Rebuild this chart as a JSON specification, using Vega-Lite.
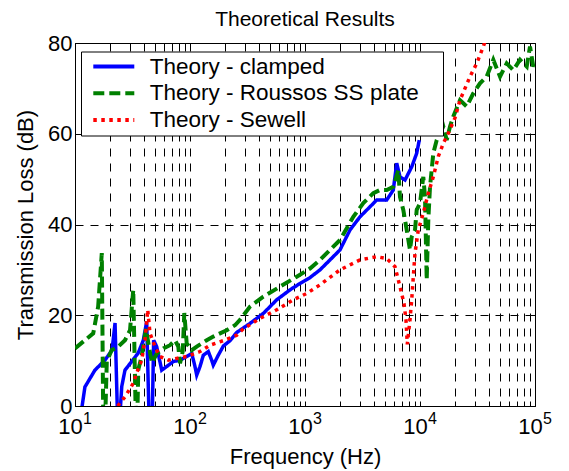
{
  "$schema": "https://vega.github.io/schema/vega-lite/v6.json",
  "width": 460,
  "height": 363,
  "autosize": {"type": "none"},
  "padding": {"left": 75, "top": 43, "right": 34, "bottom": 65},
  "background": "white",
  "title": {"text": "Theoretical Results", "fontSize": 21, "fontWeight": "normal", "font": "Liberation Sans", "color": "black", "offset": 2},
  "config": {
    "font": "Liberation Sans",
    "view": {"stroke": "black", "strokeWidth": 1},
    "legend": {
      "orient": "none", "legendX": 6, "legendY": 8.5,
      "symbolType": "M-4.1,0H4.1M63.34,0", "symbolSize": 100, "symbolStrokeWidth": 4,
      "padding": 3.75, "symbolOffset": 17.8, "labelOffset": 24.75,
      "labelFontSize": 22.5, "labelColor": "black", "labelFont": "Liberation Sans",
      "strokeColor": "black", "fillColor": "white", "rowPadding": 3.8, "labelLimit": 0
    }
  },
  "resolve": {"axis": {"x": "independent", "y": "independent"}},
  "layer": [
    {
      "data": {"values": [
        {"series": "Theory - clamped", "freq": 11.3, "tl": -1.5},
        {"series": "Theory - clamped", "freq": 12.2, "tl": 4.2},
        {"series": "Theory - clamped", "freq": 14.9, "tl": 7.9},
        {"series": "Theory - clamped", "freq": 18.2, "tl": 10.1},
        {"series": "Theory - clamped", "freq": 21.0, "tl": 12.3},
        {"series": "Theory - clamped", "freq": 22.3, "tl": 18.3},
        {"series": "Theory - clamped", "freq": 23.4, "tl": -2},
        {"series": "Theory - clamped", "freq": 24.6, "tl": -2},
        {"series": "Theory - clamped", "freq": 25.5, "tl": 4.3},
        {"series": "Theory - clamped", "freq": 27.2, "tl": 7.9},
        {"series": "Theory - clamped", "freq": 31.1, "tl": 9.8},
        {"series": "Theory - clamped", "freq": 35.5, "tl": 11.7},
        {"series": "Theory - clamped", "freq": 39.3, "tl": 14.5},
        {"series": "Theory - clamped", "freq": 42.0, "tl": 18.6},
        {"series": "Theory - clamped", "freq": 44.0, "tl": -2},
        {"series": "Theory - clamped", "freq": 47.0, "tl": -2},
        {"series": "Theory - clamped", "freq": 48.3, "tl": 14.5},
        {"series": "Theory - clamped", "freq": 51.3, "tl": 13.1},
        {"series": "Theory - clamped", "freq": 56.8, "tl": 7.9},
        {"series": "Theory - clamped", "freq": 62.7, "tl": 8.7},
        {"series": "Theory - clamped", "freq": 71.6, "tl": 9.8},
        {"series": "Theory - clamped", "freq": 81.9, "tl": 10.1},
        {"series": "Theory - clamped", "freq": 93.6, "tl": 10.9},
        {"series": "Theory - clamped", "freq": 103.5, "tl": 11.6},
        {"series": "Theory - clamped", "freq": 110.5, "tl": 8.7},
        {"series": "Theory - clamped", "freq": 114.4, "tl": 6.8},
        {"series": "Theory - clamped", "freq": 122.2, "tl": 8.7},
        {"series": "Theory - clamped", "freq": 130.6, "tl": 11.2},
        {"series": "Theory - clamped", "freq": 144.3, "tl": 12.0},
        {"series": "Theory - clamped", "freq": 154.4, "tl": 10.1},
        {"series": "Theory - clamped", "freq": 159.4, "tl": 9.0},
        {"series": "Theory - clamped", "freq": 176.2, "tl": 11.2},
        {"series": "Theory - clamped", "freq": 194.8, "tl": 13.2},
        {"series": "Theory - clamped", "freq": 222.7, "tl": 14.4},
        {"series": "Theory - clamped", "freq": 254.7, "tl": 16.2},
        {"series": "Theory - clamped", "freq": 332.4, "tl": 18.2},
        {"series": "Theory - clamped", "freq": 433.9, "tl": 20.4},
        {"series": "Theory - clamped", "freq": 567.5, "tl": 23.4},
        {"series": "Theory - clamped", "freq": 740.6, "tl": 25.6},
        {"series": "Theory - clamped", "freq": 904.6, "tl": 27.0},
        {"series": "Theory - clamped", "freq": 1105, "tl": 28.3},
        {"series": "Theory - clamped", "freq": 1350, "tl": 30.0},
        {"series": "Theory - clamped", "freq": 1650, "tl": 32.2},
        {"series": "Theory - clamped", "freq": 2015, "tl": 34.4},
        {"series": "Theory - clamped", "freq": 2462, "tl": 38.8},
        {"series": "Theory - clamped", "freq": 3008, "tl": 41.7},
        {"series": "Theory - clamped", "freq": 3674, "tl": 43.9},
        {"series": "Theory - clamped", "freq": 4203, "tl": 45.4},
        {"series": "Theory - clamped", "freq": 5133, "tl": 45.4},
        {"series": "Theory - clamped", "freq": 5857, "tl": 47.6},
        {"series": "Theory - clamped", "freq": 6272, "tl": 53.5},
        {"series": "Theory - clamped", "freq": 6699, "tl": 50.5},
        {"series": "Theory - clamped", "freq": 7405, "tl": 49.8},
        {"series": "Theory - clamped", "freq": 8470, "tl": 52.7},
        {"series": "Theory - clamped", "freq": 9361, "tl": 55.7},
        {"series": "Theory - clamped", "freq": 9860, "tl": 58.6},

        {"series": "Theory - Roussos SS plate", "freq": 10, "tl": 12.7},
        {"series": "Theory - Roussos SS plate", "freq": 12.2, "tl": 14.5},
        {"series": "Theory - Roussos SS plate", "freq": 14.4, "tl": 16},
        {"series": "Theory - Roussos SS plate", "freq": 15.9, "tl": 21.9},
        {"series": "Theory - Roussos SS plate", "freq": 17.1, "tl": 33.7},
        {"series": "Theory - Roussos SS plate", "freq": 17.6, "tl": -3},
        {"series": "Theory - Roussos SS plate", "freq": 18.3, "tl": -3},
        {"series": "Theory - Roussos SS plate", "freq": 18.9, "tl": 9.8},
        {"series": "Theory - Roussos SS plate", "freq": 20.8, "tl": 12.3},
        {"series": "Theory - Roussos SS plate", "freq": 23.8, "tl": 13.1},
        {"series": "Theory - Roussos SS plate", "freq": 27.2, "tl": 14.5},
        {"series": "Theory - Roussos SS plate", "freq": 30.1, "tl": 16.7},
        {"series": "Theory - Roussos SS plate", "freq": 32.1, "tl": 25.6},
        {"series": "Theory - Roussos SS plate", "freq": 33.8, "tl": -3},
        {"series": "Theory - Roussos SS plate", "freq": 34.8, "tl": -3},
        {"series": "Theory - Roussos SS plate", "freq": 35.5, "tl": 8},
        {"series": "Theory - Roussos SS plate", "freq": 38.0, "tl": 11},
        {"series": "Theory - Roussos SS plate", "freq": 41.4, "tl": 17},
        {"series": "Theory - Roussos SS plate", "freq": 44.0, "tl": 13},
        {"series": "Theory - Roussos SS plate", "freq": 46.7, "tl": 9.5},
        {"series": "Theory - Roussos SS plate", "freq": 51.3, "tl": 11.5},
        {"series": "Theory - Roussos SS plate", "freq": 58.6, "tl": 12.7},
        {"series": "Theory - Roussos SS plate", "freq": 67.0, "tl": 13.4},
        {"series": "Theory - Roussos SS plate", "freq": 74.1, "tl": 14.5},
        {"series": "Theory - Roussos SS plate", "freq": 79.1, "tl": 13.1},
        {"series": "Theory - Roussos SS plate", "freq": 81.9, "tl": 9.4},
        {"series": "Theory - Roussos SS plate", "freq": 86.4, "tl": 12},
        {"series": "Theory - Roussos SS plate", "freq": 89.2, "tl": 20.5},
        {"series": "Theory - Roussos SS plate", "freq": 93.6, "tl": 13.8},
        {"series": "Theory - Roussos SS plate", "freq": 103.5, "tl": 12.3},
        {"series": "Theory - Roussos SS plate", "freq": 114.4, "tl": 13.1},
        {"series": "Theory - Roussos SS plate", "freq": 126.4, "tl": 13.8},
        {"series": "Theory - Roussos SS plate", "freq": 139.7, "tl": 14.5},
        {"series": "Theory - Roussos SS plate", "freq": 159.4, "tl": 15.3},
        {"series": "Theory - Roussos SS plate", "freq": 182.4, "tl": 16},
        {"series": "Theory - Roussos SS plate", "freq": 208.5, "tl": 16.7},
        {"series": "Theory - Roussos SS plate", "freq": 246.2, "tl": 17.8},
        {"series": "Theory - Roussos SS plate", "freq": 272.2, "tl": 19},
        {"series": "Theory - Roussos SS plate", "freq": 332.4, "tl": 21.9},
        {"series": "Theory - Roussos SS plate", "freq": 433.9, "tl": 24.1},
        {"series": "Theory - Roussos SS plate", "freq": 606.2, "tl": 26.3},
        {"series": "Theory - Roussos SS plate", "freq": 847, "tl": 28.5},
        {"series": "Theory - Roussos SS plate", "freq": 1105, "tl": 30.3},
        {"series": "Theory - Roussos SS plate", "freq": 1350, "tl": 32.2},
        {"series": "Theory - Roussos SS plate", "freq": 2015, "tl": 36.6},
        {"series": "Theory - Roussos SS plate", "freq": 2630, "tl": 41.7},
        {"series": "Theory - Roussos SS plate", "freq": 3214, "tl": 44.7},
        {"series": "Theory - Roussos SS plate", "freq": 3926, "tl": 46.9},
        {"series": "Theory - Roussos SS plate", "freq": 4489, "tl": 47.6},
        {"series": "Theory - Roussos SS plate", "freq": 5133, "tl": 47.6},
        {"series": "Theory - Roussos SS plate", "freq": 5857, "tl": 48.3},
        {"series": "Theory - Roussos SS plate", "freq": 6478, "tl": 52},
        {"series": "Theory - Roussos SS plate", "freq": 6699, "tl": 46.1},
        {"series": "Theory - Roussos SS plate", "freq": 7158, "tl": 43.2},
        {"series": "Theory - Roussos SS plate", "freq": 7661, "tl": 38.8},
        {"series": "Theory - Roussos SS plate", "freq": 8185, "tl": 34.4},
        {"series": "Theory - Roussos SS plate", "freq": 8470, "tl": 37.3},
        {"series": "Theory - Roussos SS plate", "freq": 9049, "tl": 38.8},
        {"series": "Theory - Roussos SS plate", "freq": 9361, "tl": 43.2},
        {"series": "Theory - Roussos SS plate", "freq": 10000, "tl": 44.7},
        {"series": "Theory - Roussos SS plate", "freq": 10683, "tl": 50.5},
        {"series": "Theory - Roussos SS plate", "freq": 11053, "tl": 46.1},
        {"series": "Theory - Roussos SS plate", "freq": 11437, "tl": 27.8},
        {"series": "Theory - Roussos SS plate", "freq": 11809, "tl": 41},
        {"series": "Theory - Roussos SS plate", "freq": 12218, "tl": 48.3},
        {"series": "Theory - Roussos SS plate", "freq": 13055, "tl": 55.7},
        {"series": "Theory - Roussos SS plate", "freq": 13971, "tl": 58.6},
        {"series": "Theory - Roussos SS plate", "freq": 14928, "tl": 60.1},
        {"series": "Theory - Roussos SS plate", "freq": 15950, "tl": 61.6},
        {"series": "Theory - Roussos SS plate", "freq": 17070, "tl": 58.6},
        {"series": "Theory - Roussos SS plate", "freq": 18239, "tl": 61.6},
        {"series": "Theory - Roussos SS plate", "freq": 19487, "tl": 63.8},
        {"series": "Theory - Roussos SS plate", "freq": 22276, "tl": 67.4},
        {"series": "Theory - Roussos SS plate", "freq": 25471, "tl": 66},
        {"series": "Theory - Roussos SS plate", "freq": 29074, "tl": 68.9},
        {"series": "Theory - Roussos SS plate", "freq": 33240, "tl": 71.1},
        {"series": "Theory - Roussos SS plate", "freq": 38019, "tl": 72.6},
        {"series": "Theory - Roussos SS plate", "freq": 43393, "tl": 76.3},
        {"series": "Theory - Roussos SS plate", "freq": 49633, "tl": 72.6},
        {"series": "Theory - Roussos SS plate", "freq": 56754, "tl": 75.5},
        {"series": "Theory - Roussos SS plate", "freq": 64779, "tl": 74},
        {"series": "Theory - Roussos SS plate", "freq": 74056, "tl": 76.3},
        {"series": "Theory - Roussos SS plate", "freq": 84722, "tl": 74.8},
        {"series": "Theory - Roussos SS plate", "freq": 90474, "tl": 79.2},
        {"series": "Theory - Roussos SS plate", "freq": 96647, "tl": 74.8},
        {"series": "Theory - Roussos SS plate", "freq": 100000, "tl": 76},

        {"series": "Theory - Sewell", "freq": 23.5, "tl": 0},
        {"series": "Theory - Sewell", "freq": 27.2, "tl": 2},
        {"series": "Theory - Sewell", "freq": 32.1, "tl": 5},
        {"series": "Theory - Sewell", "freq": 34.4, "tl": 7.3},
        {"series": "Theory - Sewell", "freq": 38.0, "tl": 10.1},
        {"series": "Theory - Sewell", "freq": 40.6, "tl": 14.5},
        {"series": "Theory - Sewell", "freq": 42.9, "tl": 21.2},
        {"series": "Theory - Sewell", "freq": 44.9, "tl": 16},
        {"series": "Theory - Sewell", "freq": 49.6, "tl": 13.1},
        {"series": "Theory - Sewell", "freq": 54.8, "tl": 10.9},
        {"series": "Theory - Sewell", "freq": 64.8, "tl": 10.1},
        {"series": "Theory - Sewell", "freq": 76.6, "tl": 10.5},
        {"series": "Theory - Sewell", "freq": 93.6, "tl": 10.9},
        {"series": "Theory - Sewell", "freq": 122.2, "tl": 12},
        {"series": "Theory - Sewell", "freq": 149.3, "tl": 13.4},
        {"series": "Theory - Sewell", "freq": 194.8, "tl": 14.4},
        {"series": "Theory - Sewell", "freq": 254.7, "tl": 15.6},
        {"series": "Theory - Sewell", "freq": 290.7, "tl": 17},
        {"series": "Theory - Sewell", "freq": 406.1, "tl": 19.3},
        {"series": "Theory - Sewell", "freq": 567.5, "tl": 21.2},
        {"series": "Theory - Sewell", "freq": 791.3, "tl": 23.4},
        {"series": "Theory - Sewell", "freq": 1035, "tl": 24.8},
        {"series": "Theory - Sewell", "freq": 1350, "tl": 26.7},
        {"series": "Theory - Sewell", "freq": 2015, "tl": 30},
        {"series": "Theory - Sewell", "freq": 3008, "tl": 32.2},
        {"series": "Theory - Sewell", "freq": 4203, "tl": 32.9},
        {"series": "Theory - Sewell", "freq": 5133, "tl": 32.5},
        {"series": "Theory - Sewell", "freq": 6062, "tl": 30.7},
        {"series": "Theory - Sewell", "freq": 6699, "tl": 26.3},
        {"series": "Theory - Sewell", "freq": 7261, "tl": 22.6},
        {"series": "Theory - Sewell", "freq": 7555, "tl": 19},
        {"series": "Theory - Sewell", "freq": 7755, "tl": 13.6},
        {"series": "Theory - Sewell", "freq": 8185, "tl": 19},
        {"series": "Theory - Sewell", "freq": 8470, "tl": 23.4},
        {"series": "Theory - Sewell", "freq": 8746, "tl": 28.5},
        {"series": "Theory - Sewell", "freq": 9049, "tl": 33.7},
        {"series": "Theory - Sewell", "freq": 9666, "tl": 38.8},
        {"series": "Theory - Sewell", "freq": 10683, "tl": 42.5},
        {"series": "Theory - Sewell", "freq": 11809, "tl": 46.9},
        {"series": "Theory - Sewell", "freq": 13055, "tl": 50.5},
        {"series": "Theory - Sewell", "freq": 14427, "tl": 55},
        {"series": "Theory - Sewell", "freq": 15950, "tl": 57.9},
        {"series": "Theory - Sewell", "freq": 17625, "tl": 60.1},
        {"series": "Theory - Sewell", "freq": 20153, "tl": 63.5},
        {"series": "Theory - Sewell", "freq": 22276, "tl": 67.4},
        {"series": "Theory - Sewell", "freq": 27218, "tl": 72.6},
        {"series": "Theory - Sewell", "freq": 31117, "tl": 75.5},
        {"series": "Theory - Sewell", "freq": 35515, "tl": 79.2},
        {"series": "Theory - Sewell", "freq": 37480, "tl": 81}
      ]},
      "encoding": {
        "x": {
          "field": "freq", "type": "quantitative",
          "scale": {"type": "log", "domain": [10, 100000], "nice": false},
          "axis": {
            "orient": "bottom",
            "title": "Frequency (Hz)",
            "values": [10,20,30,40,50,60,70,80,90,100,200,300,400,500,600,700,800,900,1000,2000,3000,4000,5000,6000,7000,8000,9000,10000,20000,30000,40000,50000,60000,70000,80000,90000,100000],
            "labelExpr": "indexof([10,100,1000,10000,100000], datum.value) >= 0 ? '10' : ''",
            "grid": true, "gridDash": [8, 7], "gridColor": "black", "gridWidth": 1, "gridOpacity": 1,
            "domain": false, "ticks": true, "tickSize": -5, "tickColor": "black", "tickWidth": 1,
            "labelFontSize": 22, "labelColor": "black", "labelFont": "Liberation Sans", "labelOffset": -5, "labelPadding": 15,
            "labelFlush": false, "labelOverlap": false,
            "titleFontSize": 22, "titleFontWeight": "normal", "titleColor": "black", "titleFont": "Liberation Sans", "titlePadding": 9
          }
        },
        "y": {
          "field": "tl", "type": "quantitative",
          "scale": {"domain": [0, 80], "nice": false, "zero": false},
          "axis": {
            "orient": "left",
            "title": "Transmission Loss (dB)",
            "values": [0, 20, 40, 60, 80],
            "grid": true, "gridDash": [8, 7], "gridColor": "black", "gridWidth": 1, "gridOpacity": 1,
            "domain": false, "ticks": true, "tickSize": -5, "tickColor": "black", "tickWidth": 1,
            "labelFontSize": 22, "labelColor": "black", "labelFont": "Liberation Sans", "labelPadding": 8, "labelDy": 2,
            "labelFlush": false, "labelOverlap": false,
            "titleFontSize": 22, "titleFontWeight": "normal", "titleColor": "black", "titleFont": "Liberation Sans", "titlePadding": 10
          }
        },
        "color": {
          "field": "series", "type": "nominal", "title": null,
          "scale": {"domain": ["Theory - clamped", "Theory - Roussos SS plate", "Theory - Sewell"], "range": ["#0000ff", "#008000", "#ff0000"]}
        },
        "strokeDash": {
          "field": "series", "type": "nominal", "title": null,
          "scale": {"domain": ["Theory - clamped", "Theory - Roussos SS plate", "Theory - Sewell"], "range": [[1, 0], [11, 5], [3.5, 4.5]]}
        }
      },
      "layer": [
        {"transform": [{"filter": "datum.series === 'Theory - clamped'"}], "mark": {"type": "line", "clip": true, "strokeWidth": 3.5}},
        {"transform": [{"filter": "datum.series === 'Theory - Roussos SS plate'"}], "mark": {"type": "line", "clip": true, "strokeWidth": 4}},
        {"transform": [{"filter": "datum.series === 'Theory - Sewell'"}], "mark": {"type": "line", "clip": true, "strokeWidth": 3.5}}
      ]
    },
    {
      "data": {"values": [
        {"freq": 10, "e": "1"}, {"freq": 100, "e": "2"}, {"freq": 1000, "e": "3"}, {"freq": 10000, "e": "4"}, {"freq": 100000, "e": "5"}
      ]},
      "mark": {"type": "text", "align": "left", "baseline": "middle", "dx": 8, "dy": 13, "fontSize": 16, "font": "Liberation Sans", "color": "black"},
      "encoding": {
        "x": {
          "field": "freq", "type": "quantitative",
          "axis": {
            "orient": "top", "title": null, "labels": false, "grid": false, "domain": false,
            "values": [10,20,30,40,50,60,70,80,90,100,200,300,400,500,600,700,800,900,1000,2000,3000,4000,5000,6000,7000,8000,9000,10000,20000,30000,40000,50000,60000,70000,80000,90000,100000],
            "ticks": true, "tickSize": -5, "tickColor": "black", "tickWidth": 1
          }
        },
        "y": {
          "datum": 0, "type": "quantitative",
          "axis": {
            "orient": "right", "title": null, "labels": false, "grid": false, "domain": false,
            "values": [0, 20, 40, 60, 80],
            "ticks": true, "tickSize": -5, "tickColor": "black", "tickWidth": 1
          }
        },
        "text": {"field": "e", "type": "nominal"}
      }
    }
  ]
}
